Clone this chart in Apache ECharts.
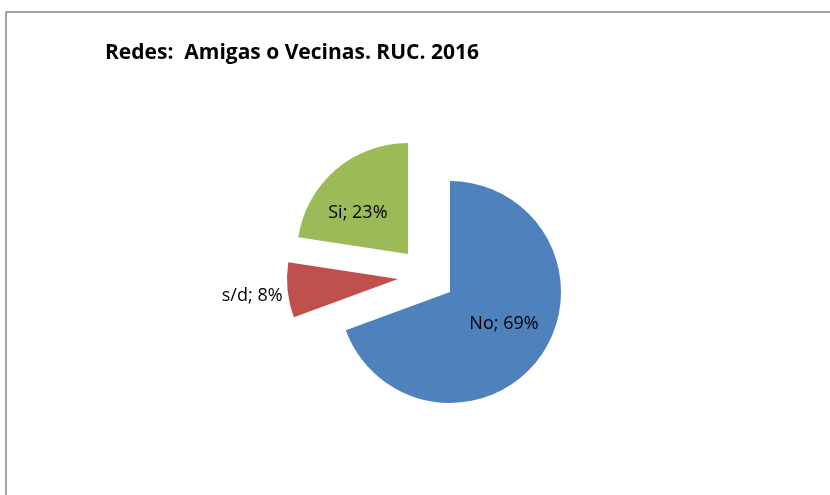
<!DOCTYPE html>
<html>
<head>
<meta charset="utf-8">
<script src="https://cdn.jsdelivr.net/npm/echarts@6/dist/echarts.min.js"></script>
<style>
  html, body { margin: 0; padding: 0; background: #fff; }
  #main { width: 830px; height: 495px; }
</style>
</head>
<body>
<div id="main"></div>
<script>
var categories = ['No', 's/d', 'Si'];
var shares = [69.4, 8.0, 22.6];
var colors = ['#4F81BD', '#C0504D', '#9BBB59'];

// centro de cada sector (los sectores s/d y Si están separados del resto)
var centers = [[450, 292], [398, 279], [408, 254]];
var labelOffsets = [[6, -2], [0, 6], [-12, 3]];

var myChart = echarts.init(document.getElementById('main'));

// una serie por sector: cada una dibuja sólo su propia porción
var series = categories.map(function (cat, k) {
    return {
        name: cat,
        type: 'pie',
        center: centers[k],
        radius: 111,
        startAngle: 90,
        clockwise: true,
        percentPrecision: 0,
        avoidLabelOverlap: false,
        silent: true,
        emphasis: { disabled: true },
        labelLine: { show: false },
        data: categories.map(function (name, i) {
            var own = i === k;
            var item = {
                name: name,
                value: shares[i],
                itemStyle: { color: own ? colors[i] : 'rgba(0,0,0,0)' },
                label: {
                    show: own,
                    position: 'inside',
                    formatter: '{b}; {d}%',
                    color: '#000',
                    fontSize: 18,
                    fontFamily: 'Open Sans',
                    offset: labelOffsets[i]
                }
            };
            if (own && name === 's/d') {
                item.label.position = 'outside';
                item.label.distanceToLabelLine = 5;
                item.labelLine = { show: false, length: 0, length2: 0 };
            }
            return item;
        })
    };
});

var option = {
    backgroundColor: '#fff',
    animation: false,
    title: {
        text: 'Redes:  Amigas o Vecinas. RUC. 2016',
        left: 100,
        top: 38,
        textStyle: {
            color: '#000',
            fontSize: 21,
            fontWeight: 'bold',
            fontFamily: 'Open Sans'
        }
    },
    graphic: [
        {
            type: 'rect',
            shape: { x: 6, y: 12, width: 900, height: 600 },
            style: { fill: 'none', stroke: '#878787', lineWidth: 1.5 },
            silent: true
        }
    ],
    series: series
};
myChart.setOption(option);
window.onresize = function () {
    myChart.resize();
};
</script>
</body>
</html>
